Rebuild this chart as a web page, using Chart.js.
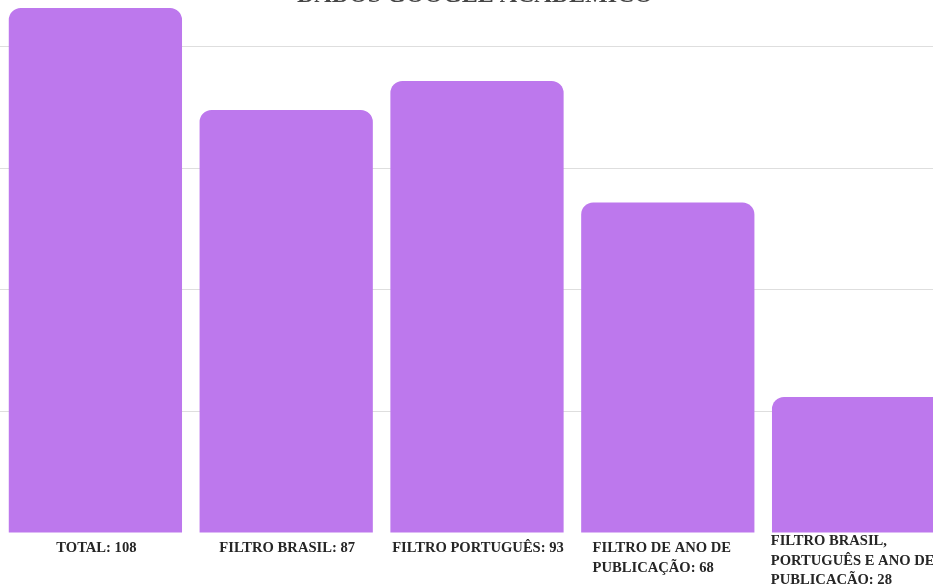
<!DOCTYPE html>
<html>
<head>
<meta charset="utf-8">
<script src="https://cdn.jsdelivr.net/npm/chart.js@4/dist/chart.umd.min.js"></script>
<style>
  html, body { margin: 0; padding: 0; background: #ffffff; }
  #wrap { position: relative; width: 933px; height: 584px; overflow: hidden; background: #fff; }
  #c { position: absolute; left: 0; top: 0; }
</style>
</head>
<body>
<div id="wrap"><canvas id="c" width="954" height="584"></canvas></div>
<script>
const chartTitle = "DADOS GOOGLE ACADÊMICO";
const categories = [
  ["TOTAL: 108"],
  ["FILTRO BRASIL: 87"],
  ["FILTRO PORTUGUÊS: 93"],
  ["FILTRO DE ANO DE", "PUBLICAÇÃO: 68"],
  ["FILTRO BRASIL,", "PORTUGUÊS E ANO DE", "PUBLICAÇÃO: 28"]
];
const values = [108, 87, 93, 68, 28];
const yTicks = [0, 25, 50, 75, 100];

const labelFont = 'bold 14.6px "Liberation Serif", "Times New Roman", serif';
const labelColor = '#262626';
const lineGap = 19.7;

const textPlugin = {
  id: 'textPlugin',
  afterDraw(chart) {
    const ctx = chart.ctx;
    const xs = chart.scales.x;
    const area = chart.chartArea;
    ctx.save();
    // title (cropped at the top of the picture)
    ctx.font = 'bold 24px "Liberation Serif", "Times New Roman", serif';
    ctx.fillStyle = '#444444';
    ctx.textAlign = 'center';
    ctx.textBaseline = 'alphabetic';
    ctx.fillText(chartTitle, 475, area.top - 6);
    // category labels
    ctx.font = labelFont;
    ctx.fillStyle = labelColor;
    chart.data.labels.forEach((lines, i) => {
      const cx = xs.getPixelForValue(i);
      const widths = lines.map(l => ctx.measureText(l).width);
      const maxW = Math.max(...widths);
      const left = cx - maxW / 2 - 6;
      const n = lines.length;
      let y = area.bottom + 19 - (n > 2 ? 7 : 0);
      lines.forEach((l, k) => {
        if (n === 1) {
          ctx.textAlign = 'center';
          ctx.fillText(l, cx + 1, y);
        } else {
          ctx.textAlign = 'left';
          ctx.fillText(l, left, y + k * lineGap);
        }
      });
    });
    ctx.restore();
  }
};

new Chart(document.getElementById('c'), {
  type: 'bar',
  data: {
    labels: categories,
    datasets: [{
      data: values,
      backgroundColor: '#bd78ed',
      borderRadius: 12,
      borderSkipped: 'start',
      barPercentage: 0.908,
      categoryPercentage: 1.0
    }]
  },
  options: {
    responsive: false,
    animation: false,
    devicePixelRatio: 1,
    layout: { padding: { top: 8, bottom: 51, left: 0, right: 0 } },
    plugins: {
      legend: { display: false },
      title: { display: false },
      tooltip: { enabled: false }
    },
    scales: {
      x: {
        grid: { display: false },
        border: { display: false },
        ticks: { display: false },
        afterFit: s => { s.height = 0; }
      },
      y: {
        min: 0,
        max: 108,
        ticks: { display: false, stepSize: 25 },
        afterBuildTicks: s => { s.ticks = yTicks.map(v => ({ value: v })); },
        afterFit: s => { s.width = 0; },
        grid: {
          color: c => (c.tick && c.tick.value === 0) ? 'rgba(0,0,0,0)' : '#dedede',
          lineWidth: 1,
          drawTicks: false
        },
        border: { display: false }
      }
    }
  },
  plugins: [textPlugin]
});
</script>
</body>
</html>
